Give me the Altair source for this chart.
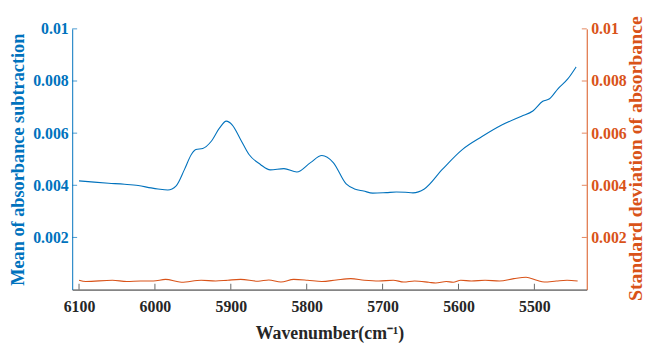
import altair as alt
import pandas as pd

# Blue series: mean of absorbance subtraction
mean_wn = [6100, 6080, 6061, 6040, 6022, 6005, 5996, 5983, 5972, 5961, 5952, 5946, 5937, 5926,
           5915, 5906, 5898, 5887, 5876, 5861, 5848, 5830, 5813, 5795, 5780, 5765, 5748, 5737,
           5725, 5713, 5695, 5682, 5670, 5660, 5645, 5621, 5595, 5569, 5543, 5517, 5502, 5489,
           5480, 5469, 5456, 5445]
mean_val = [0.00417, 0.00412, 0.00408, 0.00404, 0.00399, 0.00390, 0.00386, 0.00382, 0.00398,
            0.00461, 0.00518, 0.00537, 0.00541, 0.00568, 0.00619, 0.00646, 0.00631, 0.00575,
            0.00518, 0.00480, 0.00459, 0.00464, 0.00451, 0.00487, 0.00514, 0.00487, 0.00405,
            0.00386, 0.00378, 0.00370, 0.00372, 0.00374, 0.00373, 0.00371, 0.00386, 0.00462,
            0.00537, 0.00587, 0.00631, 0.00665, 0.00685, 0.00722, 0.00732, 0.00770, 0.00808,
            0.00854]

# Orange series: standard deviation of absorbance
std_wn = [6100, 6091, 6056, 6037, 6019, 6002, 5986, 5965, 5939, 5920, 5904, 5887, 5864, 5850,
          5834, 5817, 5799, 5780, 5761, 5742, 5724, 5705, 5686, 5672, 5658, 5639, 5630, 5616,
          5607, 5597, 5583, 5565, 5546, 5527, 5511, 5497, 5487, 5471, 5457, 5443]
std_val = [0.00036, 0.00031, 0.00036, 0.00031, 0.00033, 0.00033, 0.00039, 0.00028, 0.00036,
           0.00033, 0.00036, 0.00039, 0.00032, 0.00037, 0.00029, 0.00039, 0.00036, 0.00031,
           0.00037, 0.00042, 0.00036, 0.00033, 0.00036, 0.00029, 0.00033, 0.00028, 0.00025,
           0.00031, 0.00028, 0.00036, 0.00033, 0.00036, 0.00033, 0.00042, 0.00047, 0.00036,
           0.00029, 0.00033, 0.00036, 0.00033]

x_ticks = [6100, 6000, 5900, 5800, 5700, 5600, 5500]
y_ticks = [0.002, 0.004, 0.006, 0.008, 0.01]

BLUE = "#0072BD"
ORANGE = "#D95319"
DARK = "#262626"
FONT = "Liberation Serif"

W, H = 521, 264

df_mean = pd.DataFrame({"wn": mean_wn, "v": mean_val})
df_std = pd.DataFrame({"wn": std_wn, "v": std_val})
df_xt = pd.DataFrame({"wn": x_ticks})
df_yt = pd.DataFrame({"v": y_ticks})

xscale = alt.Scale(domain=[6109, 5431], nice=False, zero=False)
yscale = alt.Scale(domain=[0, 0.01], nice=False, zero=False)

x_axis = alt.Axis(
    values=x_ticks, format="d", title="Wavenumber(cm⁻¹)", grid=False,
    tickSize=0, labelPadding=9, domainColor=DARK, labelColor=DARK, titleColor=DARK,
    labelFont=FONT, labelFontSize=16, labelFontWeight="bold",
    titleFont=FONT, titleFontSize=18, titleFontWeight="bold", titlePadding=11,
)

mean_line = alt.Chart(df_mean).mark_line(color=BLUE, strokeWidth=1.1, interpolate="monotone").encode(
    x=alt.X("wn:Q", scale=xscale, axis=x_axis),
    y=alt.Y("v:Q", scale=yscale, axis=alt.Axis(
        orient="left", values=y_ticks, format="~g", title="Mean of absorbance subtraction",
        grid=False, tickSize=0, labelPadding=4, domainColor=BLUE, labelColor=BLUE,
        titleColor=BLUE, labelFont=FONT, labelFontSize=16, labelFontWeight="bold",
        titleFont=FONT, titleFontSize=18.5, titleFontWeight="bold", titlePadding=5,
    )),
)

std_line = alt.Chart(df_std).mark_line(color=ORANGE, strokeWidth=1.1, interpolate="monotone").encode(
    x=alt.X("wn:Q", scale=xscale, axis=x_axis),
    y=alt.Y("v:Q", scale=yscale, axis=alt.Axis(
        orient="right", values=y_ticks, format="~g", title="Standard deviation of absorbance",
        grid=False, tickSize=0, labelPadding=4, domainColor=ORANGE, labelColor=ORANGE,
        titleColor=ORANGE, labelFont=FONT, labelFontSize=16, labelFontWeight="bold",
        titleFont=FONT, titleFontSize=20, titleFontWeight="bold",
        titleAngle=270, titleBaseline="alphabetic", titleAlign="center",
        titleX=55, titleY=H / 2 - 1,
    )),
)

xt = alt.Chart(df_xt).mark_tick(orient="vertical", size=6, thickness=1, color=DARK).encode(
    x=alt.X("wn:Q", scale=xscale, axis=x_axis),
    y=alt.value(H - 3),
)
ylt = alt.Chart(df_yt).mark_tick(orient="horizontal", size=5, thickness=1, color=BLUE).encode(
    y=alt.Y("v:Q", scale=yscale, axis=None),
    x=alt.value(2.5),
)
yrt = alt.Chart(df_yt).mark_tick(orient="horizontal", size=5, thickness=1, color=ORANGE).encode(
    y=alt.Y("v:Q", scale=yscale, axis=None),
    x=alt.value(W - 2.5),
)

chart = alt.layer(mean_line, std_line, xt, ylt, yrt).resolve_scale(
    y="independent"
).properties(
    width=W, height=H,
    padding={"left": 65, "top": 19, "right": 60, "bottom": 54},
    autosize=alt.AutoSizeParams(type="none"),
    background="white",
).configure_view(stroke=None)

chart.save("out.html", embed_options={"renderer": "svg", "actions": False})
